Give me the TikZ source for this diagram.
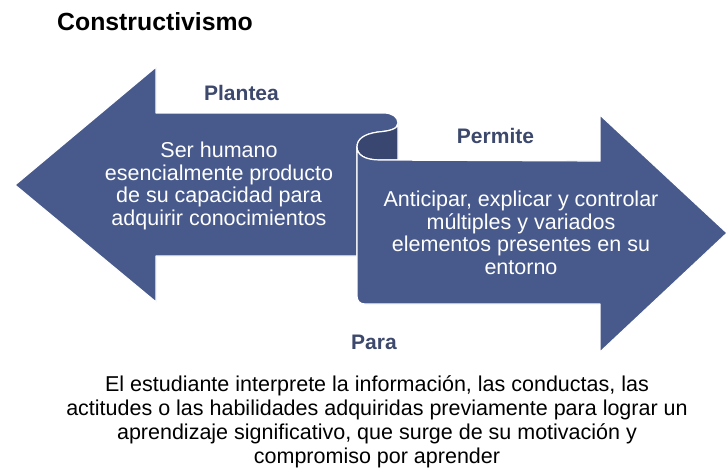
\documentclass[tikz,border=0pt]{standalone}
\usepackage{fontspec}
\setmainfont{Liberation Sans}
\definecolor{arrowblue}{RGB}{72,90,140}
\definecolor{curldark}{RGB}{57,71,112}
\definecolor{labelblue}{RGB}{60,72,108}
\begin{document}
\begin{tikzpicture}[x=1pt,y=-1pt,
  arrowshape/.style={fill=arrowblue, draw=white, line width=1.2pt, line join=round},
  intext/.style={text=white, align=center, inner sep=0pt, font=\fontsize{21.5pt}{22.5pt}\selectfont},
  lbl/.style={text=labelblue, inner sep=0pt, anchor=base, font=\bfseries\fontsize{21pt}{24pt}\selectfont},
  bodytext/.style={text=black, align=center, inner sep=0pt, font=\fontsize{21.5pt}{24pt}\selectfont}]
\useasboundingbox[fill=white] (0,0) rectangle (728,474);
% left arrow
\draw[arrowshape] (15,185) -- (156,67) -- (156,113) -- (384,113)
  .. controls (392,113) and (398,117) .. (398,123)
  .. controls (398,129) and (390,131) .. (378,132)
  .. controls (364,134) and (357,139) .. (357,147)
  -- (357,256) -- (156,256) -- (156,302) -- cycle;
% dark inside of the curl
\draw[arrowshape, fill=curldark] (357,147)
  .. controls (357,139) and (364,134) .. (378,132)
  .. controls (390,131) and (398,129) .. (398,123)
  -- (398,160) -- (380,160)
  .. controls (365,160) and (357,155) .. (357,147) -- cycle;
% right arrow
\draw[arrowshape] (357,147) .. controls (357,155) and (365,160) .. (380,160)
  -- (600,161) -- (600,115) -- (727,233) -- (600,352) -- (600,304) -- (365,304)
  .. controls (360,304) and (357,301) .. (357,296) -- cycle;
% texts
\node[anchor=base west, inner sep=0pt, font=\bfseries\fontsize{24.8pt}{28pt}\selectfont] (title) at (57,30) {Constructivismo};
\node[lbl] (plantea) at (241.5,100) {Plantea};
\node[lbl] (permite) at (495.5,143) {Permite};
\node[lbl] (para) at (374,349) {Para};
\node[intext] (ser) at (219,186) {Ser humano\\esencialmente producto\\de su capacidad para\\adquirir conocimientos};
\node[intext] (anticipar) at (521,233) {Anticipar, explicar y controlar\\múltiples y variados\\elementos presentes en su\\entorno};
\node[bodytext] (estudiante) at (377,422) {El estudiante interprete la información, las conductas, las\\actitudes o las habilidades adquiridas previamente para lograr un\\aprendizaje significativo, que surge de su motivación y\\compromiso por aprender};
\end{tikzpicture}
\end{document}
